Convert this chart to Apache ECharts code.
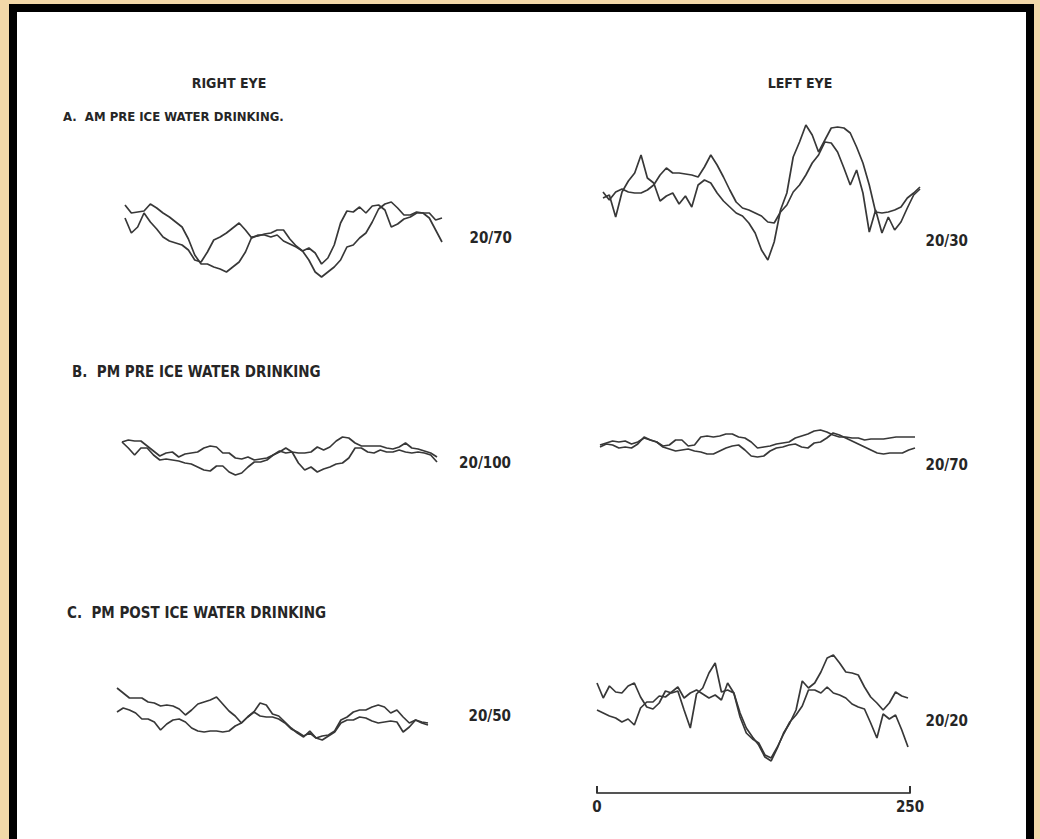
<!DOCTYPE html>
<html>
<head>
<meta charset="utf-8">
<script src="https://cdn.jsdelivr.net/npm/echarts@6/dist/echarts.min.js"></script>
<style>
html,body{margin:0;padding:0;background:#f2d8a8;}
#chart{width:1040px;height:839px;}
</style>
</head>
<body>
<div id="chart"></div>
<script>
// sample times (ms) along each trace
const sampleTimes = [0,5,10,15,20,25,30,35,40,45,50,55,60,65,70,75,80,85,90,95,100,105,110,115,120,125,130,135,140,145,150,155,160,165,170,175,180,185,190,195,200,205,210,215,220,225,230,235,240,245,250];

// A. AM pre ice water drinking
const rightA1 = [35,27,28,29,36,32,27,23,18,13,1,-15,-24,-24,-27,-29,-32,-27,-22,-12,3,4,6,7,10,10,1,-6,-11,-20,-32,-37,-32,-27,-20,-7,-5,2,7,18,31,36,38,32,25,25,28,27,22,10,-2];
const rightA2 = [22,7,13,27,18,11,3,-1,-3,-5,-10,-20,-22,-12,0,3,7,12,17,10,2,5,5,3,5,-1,-4,-7,-11,-8,-13,-24,-18,-5,17,29,28,33,27,34,35,30,13,16,21,23,27,27,27,20,22];
const leftA1 = [-8,-5,-27,-2,9,17,35,12,7,-11,-6,-3,-14,-6,-17,5,10,7,-3,-11,-17,-23,-26,-33,-43,-60,-70,-52,-20,-3,33,48,65,55,38,50,62,63,62,57,43,27,5,-22,-23,-22,-20,-17,-8,-3,3];
const leftA2 = [-2,-10,-2,1,-2,-3,-3,0,5,15,22,17,17,16,15,13,23,35,25,13,0,-12,-18,-20,-23,-26,-32,-33,-22,-15,-2,5,15,27,35,48,47,38,22,5,20,-3,-42,-20,-43,-27,-40,-32,-18,-5,1];

// B. PM pre ice water drinking
const rightB1 = [13,15,14,14,9,4,-1,2,3,-2,1,2,3,7,9,8,2,2,-3,-4,-2,-5,-4,-3,0,3,7,3,2,2,3,8,5,8,14,18,17,12,9,9,9,9,7,6,8,12,7,6,4,2,-2];
const rightB2 = [13,7,0,7,7,0,-5,-4,-5,-6,-8,-9,-12,-15,-16,-11,-11,-17,-20,-18,-12,-7,-7,-5,0,4,2,3,-8,-15,-12,-17,-14,-12,-9,-8,-3,7,7,3,2,5,3,3,5,3,2,3,2,0,-7];
const leftB1 = [-2,0,2,1,2,-1,1,5,3,1,-3,-2,3,3,-3,-2,6,7,6,7,9,9,6,5,1,-5,-4,-3,-1,0,1,5,7,9,12,13,11,8,6,6,5,5,3,4,4,4,5,6,6,6,6];
const leftB2 = [-4,-1,-2,-5,-4,-5,-1,6,3,1,-4,-6,-8,-7,-6,-8,-9,-11,-11,-8,-5,-3,-2,-7,-13,-14,-13,-8,-5,-4,-2,-1,-4,-5,0,1,5,10,8,5,2,-1,-4,-7,-10,-11,-10,-10,-10,-7,-5];

// C. PM post ice water drinking
const rightC1 = [27,22,17,17,17,13,12,9,10,9,6,0,5,11,13,15,18,11,4,-1,-8,-2,3,12,10,1,-1,-7,-13,-18,-22,-16,-23,-21,-20,-16,-5,-2,3,5,5,8,10,8,2,5,-2,-8,-5,-7,-8];
const rightC2 = [3,7,5,2,-4,-4,-7,-15,-9,-5,-4,-7,-13,-16,-17,-16,-16,-17,-16,-11,-8,-2,3,-1,-2,-2,-4,-8,-14,-17,-21,-18,-23,-25,-21,-17,-8,-5,-5,-2,-3,-6,-8,-7,-6,-7,-17,-12,-5,-8,-10];
const leftC1 = [25,10,22,16,15,22,25,11,1,-1,5,17,15,17,-2,-20,14,20,35,45,16,18,15,-5,-20,-29,-37,-49,-53,-40,-25,-15,-2,27,20,25,36,50,53,45,36,35,33,21,11,5,-2,5,16,12,10];
const leftC2 = [-2,-5,-8,-10,-14,-11,-17,0,6,6,12,11,16,21,10,15,18,14,10,13,8,25,15,-9,-25,-31,-35,-47,-50,-39,-26,-14,-7,2,18,18,15,21,15,13,10,4,1,-1,-15,-30,-6,-11,-7,-22,-39];

// text
const eyeHeaders = ['RIGHT EYE', 'LEFT EYE'];
const conditionLabels = ['A.  AM PRE ICE WATER DRINKING.', 'B.  PM PRE ICE WATER DRINKING', 'C.  PM POST ICE WATER DRINKING'];
const acuityRight = ['20/70', '20/100', '20/50'];
const acuityLeft = ['20/30', '20/70', '20/20'];
const scaleTicks = [0, 250];

// layout of the six panels (pixels)
const panels = [
  {left:125, top:190, width:317, height:100, ymin:-50, ymax:50, data:[rightA1, rightA2]},
  {left:603, top:110, width:317, height:160, ymin:-80, ymax:80, data:[leftA1, leftA2]},
  {left:122, top:405, width:315, height:100, ymin:-50, ymax:50, data:[rightB1, rightB2]},
  {left:600, top:393, width:315, height:100, ymin:-50, ymax:50, data:[leftB1, leftB2]},
  {left:117, top:665, width:311, height:100, ymin:-50, ymax:50, data:[rightC1, rightC2]},
  {left:597, top:638, width:311, height:140, ymin:-70, ymax:70, data:[leftC1, leftC2]}
];

const FONT = '"Liberation Sans Narrow", "DejaVu Sans Condensed", sans-serif';
const INK = '#262626';
const grid = [], xAxis = [], yAxis = [], series = [];
panels.forEach((p, i) => {
  grid.push({left:p.left, top:p.top, width:p.width, height:p.height, containLabel:false});
  xAxis.push({type:'category', gridIndex:i, data:sampleTimes, boundaryGap:false, show:false});
  yAxis.push({type:'value', gridIndex:i, min:p.ymin, max:p.ymax, show:false});
  p.data.forEach(d => {
    series.push({type:'line', xAxisIndex:i, yAxisIndex:i, data:d, showSymbol:false, symbol:'none',
      lineStyle:{color:'#383838', width:1.7}, silent:true, animation:false, z:3});
  });
});
// scale bar 0..250
grid.push({left:597, top:780, width:313, height:13});
xAxis.push({type:'value', gridIndex:6, min:scaleTicks[0], max:scaleTicks[1], interval:250,
  axisLine:{show:true, lineStyle:{color:'#555', width:2}},
  axisTick:{show:true, inside:true, length:7, lineStyle:{color:'#333', width:2}},
  axisLabel:{show:true, fontFamily:FONT, fontWeight:'bold', fontSize:15, color:INK, margin:6},
  splitLine:{show:false}});
yAxis.push({type:'value', gridIndex:6, show:false, min:0, max:1});
series.push({type:'line', xAxisIndex:6, yAxisIndex:6, data:[], silent:true});

function txt(text, x, y, align, size) {
  return {type:'text', x:x, y:y, z:10, silent:true,
    style:{text:text, font:'bold ' + (size||16) + 'px ' + FONT, fill:INK, textAlign:align, textVerticalAlign:'middle'}};
}
const graphic = [
  {type:'rect', z:-10, silent:true, shape:{x:13, y:8, width:1017, height:845}, style:{fill:'#ffffff', stroke:'#000000', lineWidth:8}},
  txt(eyeHeaders[0], 229, 83, 'center', 14),
  txt(eyeHeaders[1], 800, 83, 'center', 14),
  txt(conditionLabels[0], 63, 116, 'left', 13),
  txt(conditionLabels[1], 72, 372, 'left', 15),
  txt(conditionLabels[2], 67, 613, 'left', 15),
  txt(acuityRight[0], 512, 238, 'right', 15),
  txt(acuityRight[1], 511, 463, 'right', 15),
  txt(acuityRight[2], 511, 716, 'right', 15),
  txt(acuityLeft[0], 968, 241, 'right', 15),
  txt(acuityLeft[1], 968, 465, 'right', 15),
  txt(acuityLeft[2], 968, 721, 'right', 15)
];

const chart = echarts.init(document.getElementById('chart'), null, {renderer:'svg'});
chart.setOption({
  backgroundColor:'#f2d8a8',
  animation:false,
  grid:grid, xAxis:xAxis, yAxis:yAxis, series:series, graphic:graphic
});
</script>
</body>
</html>
